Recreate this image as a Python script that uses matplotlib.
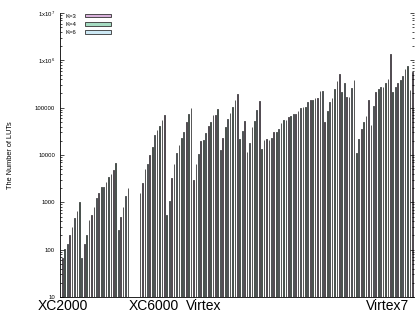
import numpy as np
import matplotlib
matplotlib.use("Agg")
import matplotlib.pyplot as plt
from matplotlib.ticker import FixedLocator, LogLocator, NullFormatter

nan = np.nan
series_names = ["K=3", "K=4", "K=6"]
k3 = [66, 204, 655, 130, 540, 1550, 2750, 4850, 500, 2050, nan, 2540, 10050, 33960, 70400,
      3230, 16360, 49350, 2980, 19870, 41240, 70400, 22650, 77600, 195800, 52600, 39900,
      139200, 21900, 30800, 48400, 63000, 73900, 102500, 146000, 158800, 50800, 158800,
      518000, 171700, 387000, 35100, 146000, 219000, 279000, 1371000, 340000, 661000, 579000]
k4 = [102, 295, 1000, 200, 810, 2150, 3450, 6750, 810, nan, nan, 5010, 15060, 41240, 542,
      6390, 23330, 73900, 6390, 20850, 50800, 94400, 39900, 105500, 21900, 11800, 53400,
      13270, 20550, 31240, 55200, 68100, 86900, 104000, 146000, 223300, 86900, 246000,
      219000, 171700, 10900, 50800, 43300, 246000, 330000, 219000, 387000, 776000, nan]
k6 = [130, 456, 66, 430, 1220, 2150, 4050, 260, 1350, nan, 1600, 6390, 26600, 55200, 1070,
      11250, 31240, 97500, 10550, 29770, 70400, 12820, 57950, 146000, 32800, 18300, 89800,
      20850, 23330, 35100, 55200, 73900, 97500, 130700, 158800, 223300, 134600, 374000,
      330000, 258300, 21900, 67100, 109100, 271000, 401000, 279000, 477000, 238000, nan]
family_labels = ["XC2000", "XC6000", "Virtex", "Virtex7"]
family_label_pos = [0.3, 37.7, 58.3, 133.8]
ytick_vals = [10, 100, 1000, 10000, 100000, 1e6, 1e7]
ytick_labels = ["10", "100", "1000", "10000", "100000", r"1x10$^6$", r"1x10$^7$"]
colors = ["#dab2dc", "#a6dcc2", "#cde9f5"]

plt.rcParams['font.family'] = ['Liberation Sans', 'DejaVu Sans']
plt.rcParams['mathtext.fontset'] = 'custom'
plt.rcParams['mathtext.rm'] = 'Liberation Sans'

fig = plt.figure(figsize=(4.2, 3.25), dpi=100)
ax = fig.add_axes([60/420, 1-297/325, 354/420, (297-13)/325])

n = len(k3)
base = np.arange(n) * 3
handles = []
for j, (vals, c, name) in enumerate(zip([k3, k4, k6], colors, series_names)):
    ax.bar(base + j, np.array(vals, dtype=float), width=0.3, bottom=0,
           color=c, edgecolor="#111111", linewidth=0.5)
    handles.append(plt.Rectangle((0, 0), 1, 1, facecolor=c, edgecolor="#333333",
                                 linewidth=0.6, label=name))

ax.set_yscale('log')
ax.set_ylim(10, 1e7)
ax.set_xlim(-0.95, 144.7)

ax.yaxis.set_major_locator(FixedLocator(ytick_vals))
ax.set_yticklabels(ytick_labels, fontsize=4.3)
ax.yaxis.set_minor_locator(LogLocator(base=10, subs=np.arange(2, 10)))
ax.yaxis.set_minor_formatter(NullFormatter())
ax.tick_params(axis='y', which='major', direction='in', length=2.6, width=0.5,
               left=True, right=True, pad=3.5)
ax.tick_params(axis='y', which='minor', direction='in', length=1.5, width=0.5,
               left=True, right=True)

ax.set_xticks(family_label_pos)
ax.set_xticklabels(family_labels, fontsize=10)
ax.tick_params(axis='x', length=0, pad=1.5)

for s in ['top', 'right']:
    ax.spines[s].set_visible(False)
for s in ['left', 'bottom']:
    ax.spines[s].set_linewidth(0.6)

ax.set_ylabel("The Number of LUTs", fontsize=5.3)
ax.yaxis.set_label_coords(-46/354, 0.5)

leg = ax.legend(handles=handles, loc='upper left', bbox_to_anchor=(5/354, 0.998),
                frameon=False, fontsize=4.3, markerfirst=False, handlelength=4.2,
                handleheight=0.6, handletextpad=1.6, labelspacing=0.55, borderpad=0,
                borderaxespad=0)

fig.savefig("out.png", dpi=100)
